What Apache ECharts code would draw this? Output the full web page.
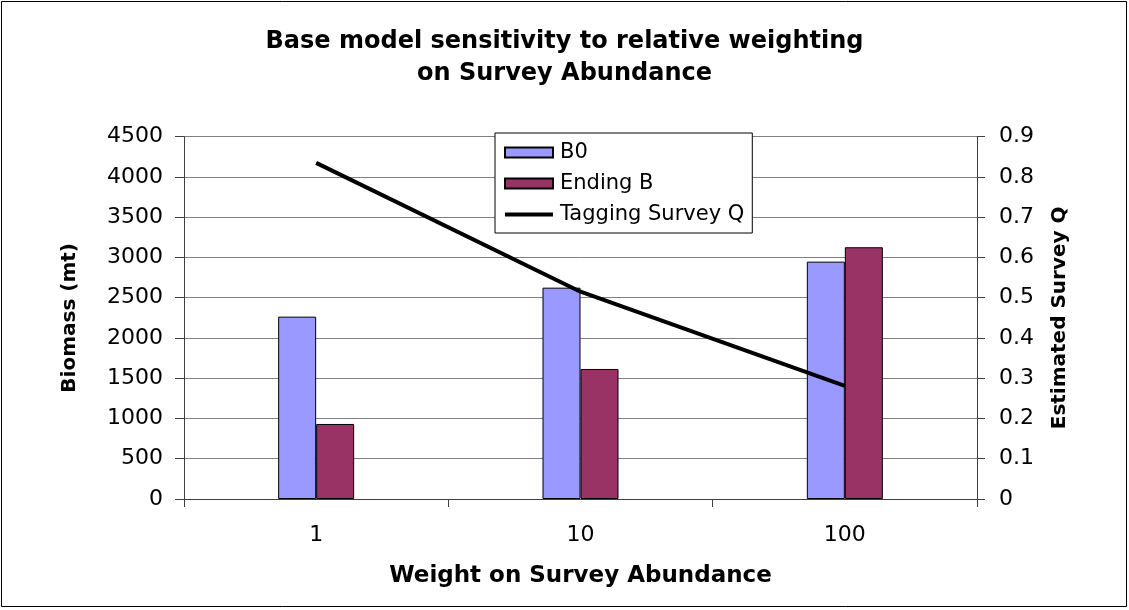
<!DOCTYPE html>
<html>
<head>
<meta charset="utf-8">
<script src="https://cdn.jsdelivr.net/npm/echarts@6/dist/echarts.min.js"></script>
<style>
html,body{margin:0;padding:0;background:#fff;}
#chart{width:1129px;height:610px;}
</style>
</head>
<body>
<div id="chart"></div>
<script>
var categories = ['1', '10', '100'];
var b0Values = [2265, 2625, 2948];
var endingBValues = [932, 1615, 3127];
var surveyQValues = [0.835, 0.515, 0.281];
var leftTicks = [0, 500, 1000, 1500, 2000, 2500, 3000, 3500, 4000, 4500];
var rightTicks = [0, 0.1, 0.2, 0.3, 0.4, 0.5, 0.6, 0.7, 0.8, 0.9];

var FONT = 'DejaVu Sans';
var axisColor = '#404040';
var gridColor = '#808080';
var lineIcon = 'path://M0,0L0.01,0L0.01,0.01Z M0,3L48,3L48,7L0,7Z M47.99,10L48,10L48,9.99Z';

var chart = echarts.init(document.getElementById('chart'), null, {renderer: 'canvas'});
chart.setOption({
  backgroundColor: '#ffffff',
  animation: false,
  textStyle: {fontFamily: FONT, color: '#000'},
  graphic: [{
    type: 'rect',
    shape: {x: 1.5, y: 1.5, width: 1125, height: 605},
    style: {fill: 'none', stroke: '#000', lineWidth: 1},
    silent: true,
    z: 100
  }],
  title: {
    text: 'Base model sensitivity to relative weighting\non Survey Abundance',
    left: 'center',
    top: 21,
    textStyle: {fontFamily: FONT, fontSize: 24, fontWeight: 'bold', color: '#000', lineHeight: 32, align: 'center'}
  },
  legend: {
    orient: 'vertical',
    left: 495,
    top: 133,
    padding: [9, 8, 8, 9],
    itemGap: 10,
    itemWidth: 48,
    itemHeight: 10,
    backgroundColor: '#fff',
    borderColor: '#000',
    borderWidth: 1,
    borderRadius: 0,
    textStyle: {fontFamily: FONT, fontSize: 21, color: '#000', lineHeight: 21, padding: [0, 0, 0, 2]},
    data: [
      {name: 'B0', icon: 'rect'},
      {name: 'Ending B', icon: 'rect'},
      {name: 'Tagging Survey Q', icon: lineIcon, itemStyle: {color: '#000', borderWidth: 0}}
    ]
  },
  grid: {left: 184, right: 152, top: 136.7, bottom: 111, containLabel: false},
  xAxis: {
    type: 'category',
    data: categories,
    boundaryGap: true,
    name: 'Weight on Survey Abundance',
    nameLocation: 'middle',
    nameGap: 66,
    nameTextStyle: {fontFamily: FONT, fontSize: 23, fontWeight: 'bold', color: '#000'},
    axisLine: {lineStyle: {color: axisColor, width: 1}},
    axisTick: {show: true, length: 8, lineStyle: {color: axisColor}},
    axisLabel: {fontFamily: FONT, fontSize: 22, color: '#000', margin: 25},
    splitLine: {show: false}
  },
  yAxis: [{
    type: 'value',
    min: leftTicks[0],
    max: leftTicks[leftTicks.length - 1],
    interval: leftTicks[1] - leftTicks[0],
    position: 'left',
    name: 'Biomass (mt)',
    nameLocation: 'middle',
    nameRotate: 90,
    nameGap: 104,
    nameTextStyle: {fontFamily: FONT, fontSize: 20, fontWeight: 'bold', color: '#000'},
    axisLine: {show: true, lineStyle: {color: axisColor, width: 1}},
    axisTick: {show: true, length: 9, lineStyle: {color: axisColor}},
    axisLabel: {
      fontFamily: FONT, fontSize: 22, color: '#000', margin: 21,
      formatter: function (v) { return String(v); }
    },
    splitLine: {show: true, lineStyle: {color: gridColor, width: 1}}
  }, {
    type: 'value',
    min: rightTicks[0],
    max: rightTicks[rightTicks.length - 1],
    interval: 0.1,
    position: 'right',
    name: 'Estimated Survey Q',
    nameLocation: 'middle',
    nameRotate: 90,
    nameGap: 73,
    nameTextStyle: {fontFamily: FONT, fontSize: 20, fontWeight: 'bold', color: '#000'},
    axisLine: {show: true, lineStyle: {color: axisColor, width: 1}},
    axisTick: {show: true, length: 8, lineStyle: {color: axisColor}},
    axisLabel: {
      fontFamily: FONT, fontSize: 22, color: '#000', margin: 22,
      formatter: function (v) { return String(Math.round(v * 10) / 10); }
    },
    splitLine: {show: false}
  }],
  series: [{
    name: 'B0',
    type: 'bar',
    yAxisIndex: 0,
    data: b0Values,
    barWidth: 38,
    barGap: '0%',
    itemStyle: {color: '#9999FF', borderColor: '#000', borderWidth: 1}
  }, {
    name: 'Ending B',
    type: 'bar',
    yAxisIndex: 0,
    data: endingBValues,
    barWidth: 38,
    barGap: '0%',
    itemStyle: {color: '#993366', borderColor: '#000', borderWidth: 1}
  }, {
    name: 'Tagging Survey Q',
    type: 'line',
    yAxisIndex: 1,
    data: surveyQValues,
    symbol: 'none',
    showSymbol: false,
    lineStyle: {color: '#000', width: 4},
    itemStyle: {color: '#000'},
    z: 5
  }]
});
</script>
</body>
</html>
